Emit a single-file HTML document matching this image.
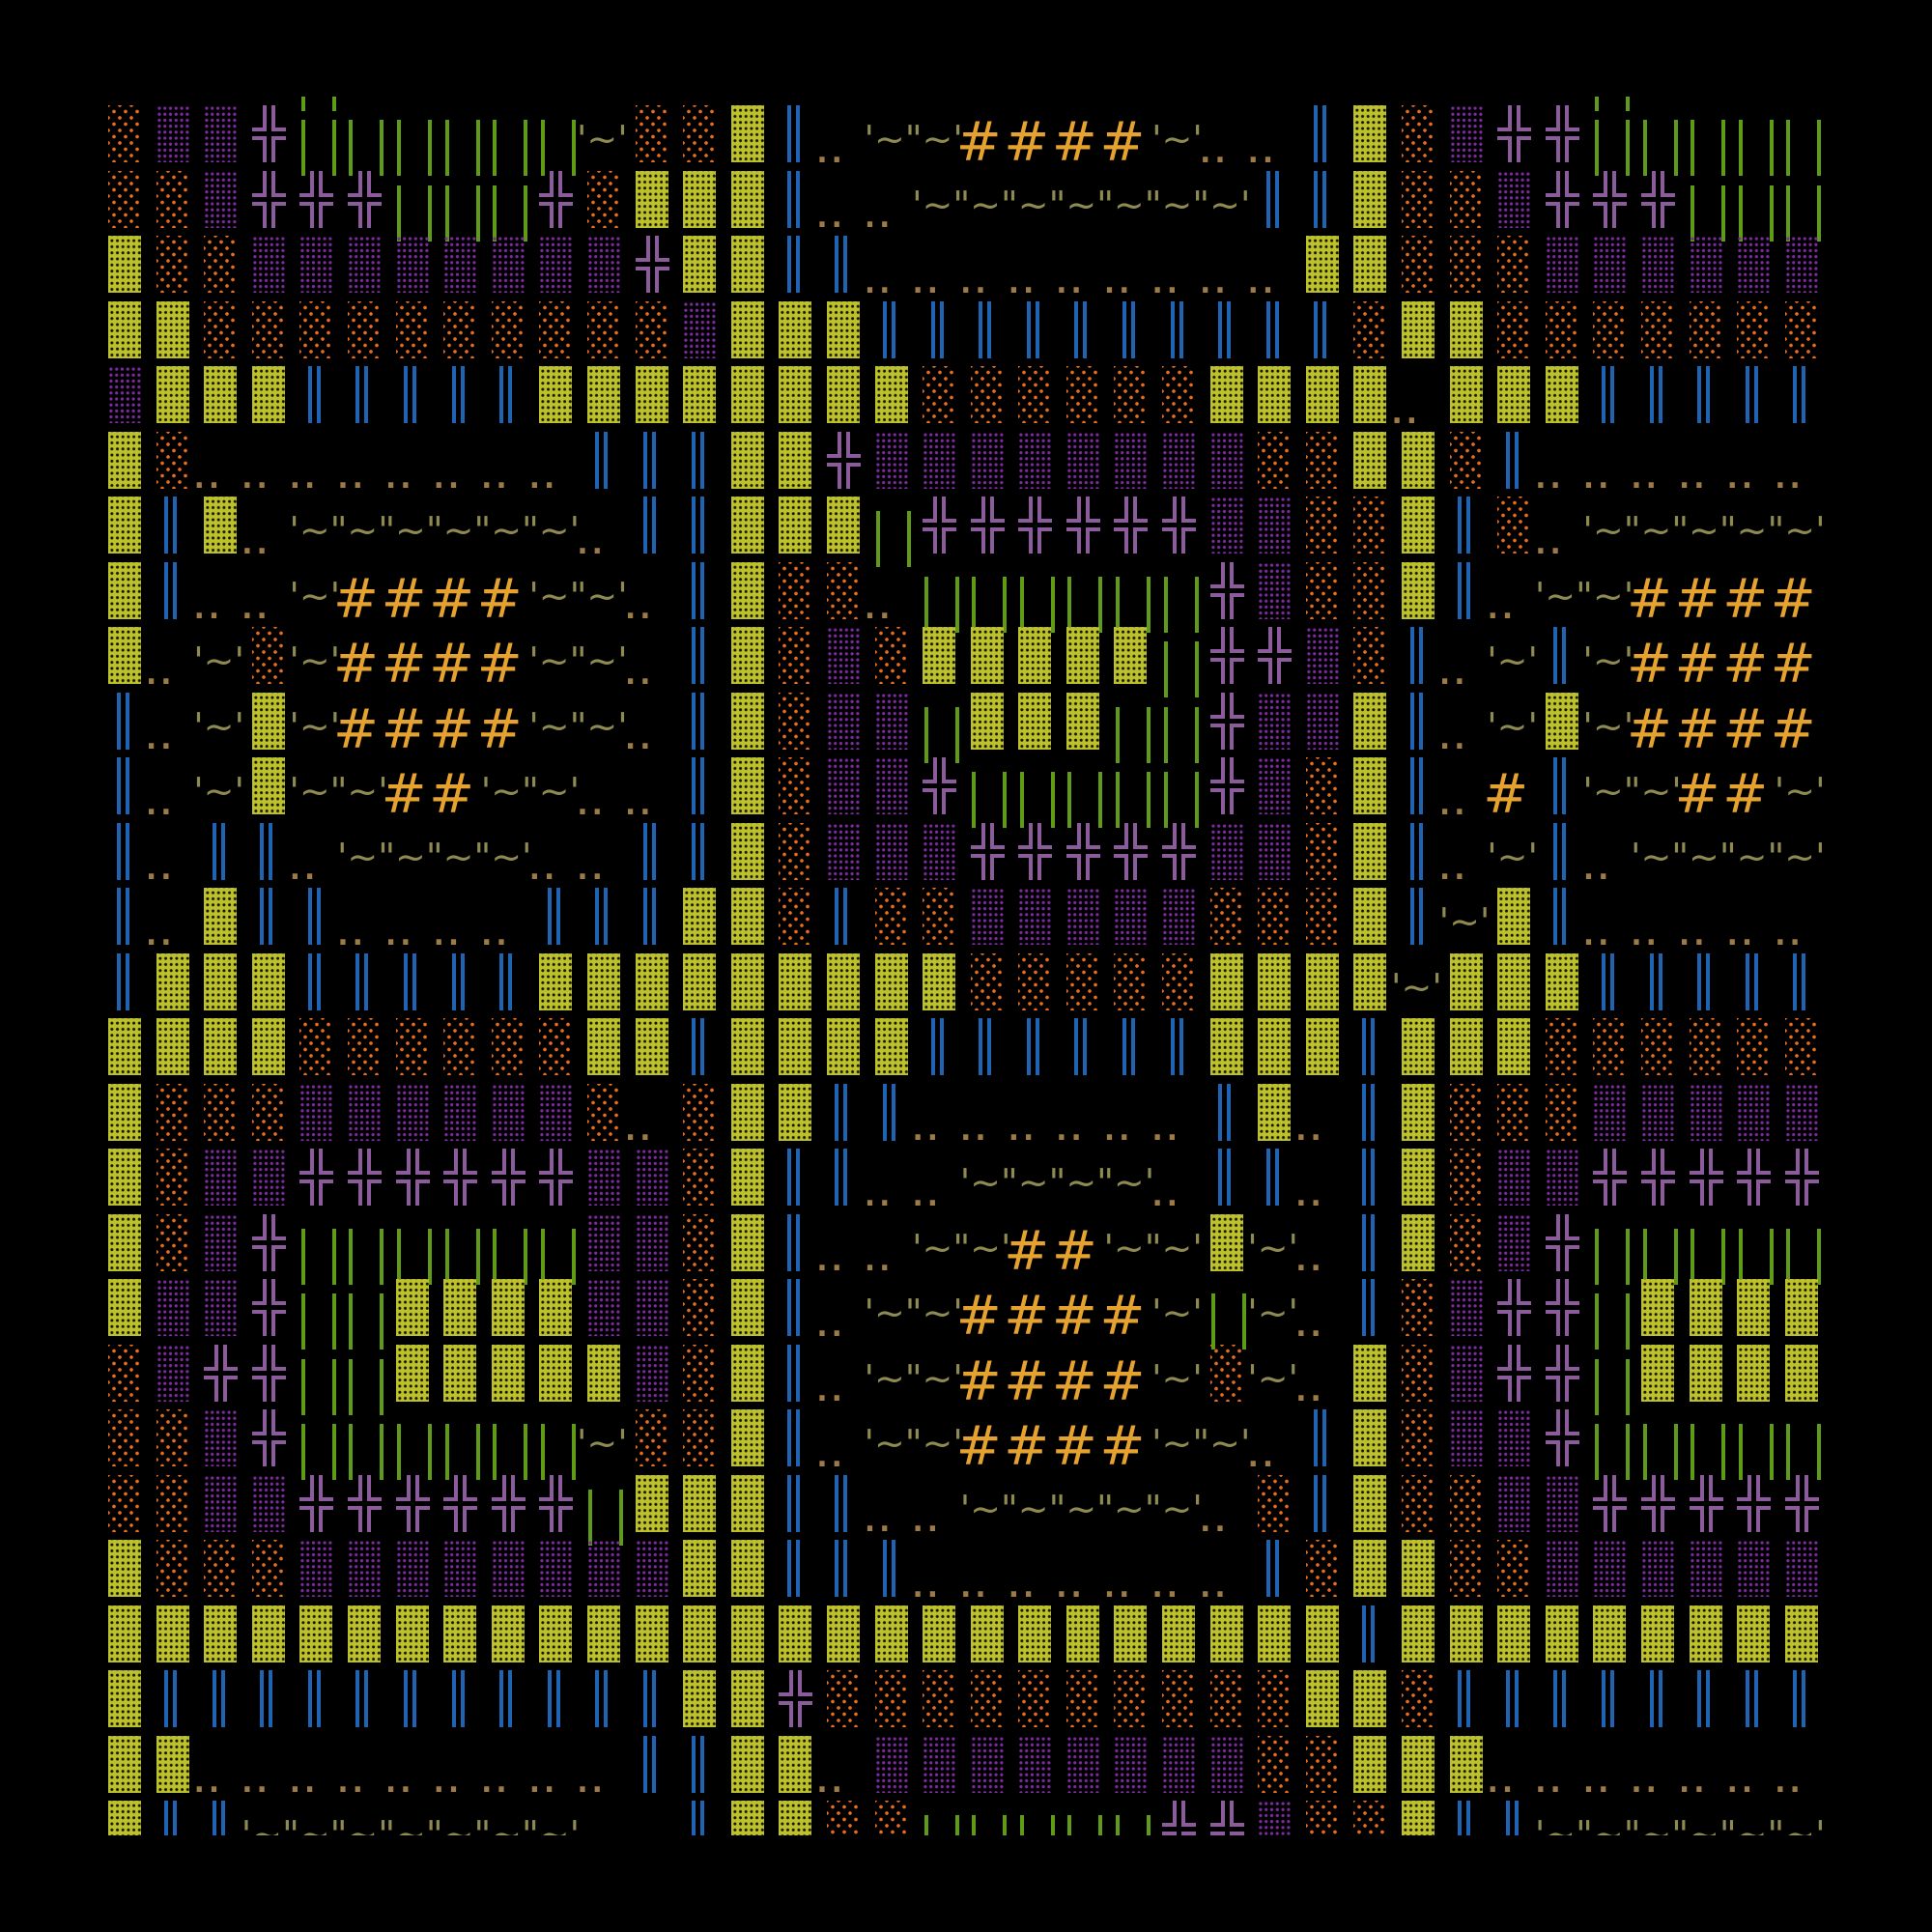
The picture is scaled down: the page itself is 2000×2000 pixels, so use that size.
<!DOCTYPE html>
<html><head><meta charset="utf-8"><style>
html,body{margin:0;padding:0;background:#000;}
body{width:2000px;height:2000px;overflow:hidden;position:relative;}
#c{position:absolute;left:112px;top:100px;width:1788px;height:1800px;overflow:hidden;}
#g{position:absolute;left:-8px;top:-63.5px;}
.r{display:flex;height:67.5px;}
.r>*{flex:0 0 49.6px;width:49.6px;height:67.5px;position:relative;display:block;box-sizing:border-box;white-space:nowrap;overflow:visible;}
y::before,o::before,m::before{content:"";position:absolute;left:8px;top:5px;width:34px;height:59px;}
y::before{background:radial-gradient(circle,#151500 1.2px,transparent 1.8px) 1px 2px/5.7px 6.3px,#bcc12c;}
o::before{background:radial-gradient(circle,#e86c1a 1.6px,transparent 2.1px) 0 0/12px 13px,radial-gradient(circle,#e86c1a 1.6px,transparent 2.1px) 6px 6.5px/12px 13px;}
m::before{background:radial-gradient(circle,#7d2ba0 1.4px,transparent 1.9px) 0 0/5.8px 6.2px;}
x{background:
linear-gradient(#8b5b9b,#8b5b9b) 19px 5px/4px 27px no-repeat,
linear-gradient(#8b5b9b,#8b5b9b) 28px 5px/4px 27px no-repeat,
linear-gradient(#8b5b9b,#8b5b9b) 19px 37px/4px 27px no-repeat,
linear-gradient(#8b5b9b,#8b5b9b) 28px 37px/4px 27px no-repeat,
linear-gradient(#8b5b9b,#8b5b9b) 8px 28px/15px 4px no-repeat,
linear-gradient(#8b5b9b,#8b5b9b) 28px 28px/15px 4px no-repeat,
linear-gradient(#8b5b9b,#8b5b9b) 8px 37px/15px 4px no-repeat,
linear-gradient(#8b5b9b,#8b5b9b) 28px 37px/15px 4px no-repeat;}
g::before{content:"";position:absolute;left:9.5px;top:20px;width:28px;height:58px;border-left:4px solid #5f9b16;border-right:4px solid #5f9b16;}
l::before{content:"";position:absolute;left:16.5px;top:5px;width:5px;height:59px;border-left:4px solid #1f63b3;border-right:4px solid #1f63b3;}
d{font:bold 32px/32px "DejaVu Sans Mono",monospace;color:#9c7b46;letter-spacing:-4px;padding-top:36.5px;text-indent:-6.6px;}
t{font:38px/38px "DejaVu Sans",sans-serif;color:#8e8a52;letter-spacing:0;padding-top:21px;text-indent:-3px;}
h{font:56px/56px "DejaVu Sans",sans-serif;color:#e5a22e;padding-top:16px;text-indent:-7px;}
</style></head><body><div id="c"><div id="g">
<div class="r"><e></e><e></e><e></e><e></e><g></g><e></e><e></e><e></e><e></e><e></e><e></e><e></e><e></e><e></e><e></e><d>..</d><e></e><e></e><e></e><e></e><e></e><e></e><e></e><e></e><e></e><d>..</d><e></e><e></e><e></e><e></e><e></e><g></g></div>
<div class="r"><o></o><m></m><m></m><x></x><g></g><g></g><g></g><g></g><g></g><g></g><t>'~'</t><o></o><o></o><y></y><l></l><d>..</d><t>'~'</t><t>'~'</t><h>#</h><h>#</h><h>#</h><h>#</h><t>'~'</t><d>..</d><d>..</d><l></l><y></y><o></o><m></m><x></x><x></x><g></g><g></g><g></g><g></g><g></g></div>
<div class="r"><o></o><o></o><m></m><x></x><x></x><x></x><g></g><g></g><g></g><x></x><o></o><y></y><y></y><y></y><l></l><d>..</d><d>..</d><t>'~'</t><t>'~'</t><t>'~'</t><t>'~'</t><t>'~'</t><t>'~'</t><t>'~'</t><l></l><l></l><y></y><o></o><o></o><m></m><x></x><x></x><x></x><g></g><g></g><g></g></div>
<div class="r"><y></y><o></o><o></o><m></m><m></m><m></m><m></m><m></m><m></m><m></m><m></m><x></x><y></y><y></y><l></l><l></l><d>..</d><d>..</d><d>..</d><d>..</d><d>..</d><d>..</d><d>..</d><d>..</d><d>..</d><y></y><y></y><o></o><o></o><o></o><m></m><m></m><m></m><m></m><m></m><m></m></div>
<div class="r"><y></y><y></y><o></o><o></o><o></o><o></o><o></o><o></o><o></o><o></o><o></o><o></o><m></m><y></y><y></y><y></y><l></l><l></l><l></l><l></l><l></l><l></l><l></l><l></l><l></l><l></l><o></o><y></y><y></y><o></o><o></o><o></o><o></o><o></o><o></o><o></o></div>
<div class="r"><m></m><y></y><y></y><y></y><l></l><l></l><l></l><l></l><l></l><y></y><y></y><y></y><y></y><y></y><y></y><y></y><y></y><o></o><o></o><o></o><o></o><o></o><o></o><y></y><y></y><y></y><y></y><d>..</d><y></y><y></y><y></y><l></l><l></l><l></l><l></l><l></l></div>
<div class="r"><y></y><o></o><d>..</d><d>..</d><d>..</d><d>..</d><d>..</d><d>..</d><d>..</d><d>..</d><l></l><l></l><l></l><y></y><y></y><x></x><m></m><m></m><m></m><m></m><m></m><m></m><m></m><m></m><o></o><o></o><y></y><y></y><o></o><l></l><d>..</d><d>..</d><d>..</d><d>..</d><d>..</d><d>..</d></div>
<div class="r"><y></y><l></l><y></y><d>..</d><t>'~'</t><t>'~'</t><t>'~'</t><t>'~'</t><t>'~'</t><t>'~'</t><d>..</d><l></l><l></l><y></y><y></y><y></y><g></g><x></x><x></x><x></x><x></x><x></x><x></x><m></m><m></m><o></o><o></o><y></y><l></l><o></o><d>..</d><t>'~'</t><t>'~'</t><t>'~'</t><t>'~'</t><t>'~'</t></div>
<div class="r"><y></y><l></l><d>..</d><d>..</d><t>'~'</t><h>#</h><h>#</h><h>#</h><h>#</h><t>'~'</t><t>'~'</t><d>..</d><l></l><y></y><o></o><o></o><d>..</d><g></g><g></g><g></g><g></g><g></g><g></g><x></x><m></m><o></o><o></o><y></y><l></l><d>..</d><t>'~'</t><t>'~'</t><h>#</h><h>#</h><h>#</h><h>#</h></div>
<div class="r"><y></y><d>..</d><t>'~'</t><o></o><t>'~'</t><h>#</h><h>#</h><h>#</h><h>#</h><t>'~'</t><t>'~'</t><d>..</d><l></l><y></y><o></o><m></m><o></o><y></y><y></y><y></y><y></y><y></y><g></g><x></x><x></x><m></m><o></o><l></l><d>..</d><t>'~'</t><l></l><t>'~'</t><h>#</h><h>#</h><h>#</h><h>#</h></div>
<div class="r"><l></l><d>..</d><t>'~'</t><y></y><t>'~'</t><h>#</h><h>#</h><h>#</h><h>#</h><t>'~'</t><t>'~'</t><d>..</d><l></l><y></y><o></o><m></m><m></m><g></g><y></y><y></y><y></y><g></g><g></g><x></x><m></m><m></m><y></y><l></l><d>..</d><t>'~'</t><y></y><t>'~'</t><h>#</h><h>#</h><h>#</h><h>#</h></div>
<div class="r"><l></l><d>..</d><t>'~'</t><y></y><t>'~'</t><t>'~'</t><h>#</h><h>#</h><t>'~'</t><t>'~'</t><d>..</d><d>..</d><l></l><y></y><o></o><m></m><m></m><x></x><g></g><g></g><g></g><g></g><g></g><x></x><m></m><o></o><y></y><l></l><d>..</d><h>#</h><l></l><t>'~'</t><t>'~'</t><h>#</h><h>#</h><t>'~'</t></div>
<div class="r"><l></l><d>..</d><l></l><l></l><d>..</d><t>'~'</t><t>'~'</t><t>'~'</t><t>'~'</t><d>..</d><d>..</d><l></l><l></l><y></y><o></o><m></m><m></m><m></m><x></x><x></x><x></x><x></x><x></x><m></m><m></m><o></o><y></y><l></l><d>..</d><t>'~'</t><l></l><d>..</d><t>'~'</t><t>'~'</t><t>'~'</t><t>'~'</t></div>
<div class="r"><l></l><d>..</d><y></y><l></l><l></l><d>..</d><d>..</d><d>..</d><d>..</d><l></l><l></l><l></l><y></y><y></y><o></o><l></l><o></o><o></o><m></m><m></m><m></m><m></m><m></m><o></o><o></o><o></o><y></y><l></l><t>'~'</t><y></y><l></l><d>..</d><d>..</d><d>..</d><d>..</d><d>..</d></div>
<div class="r"><l></l><y></y><y></y><y></y><l></l><l></l><l></l><l></l><l></l><y></y><y></y><y></y><y></y><y></y><y></y><y></y><y></y><y></y><o></o><o></o><o></o><o></o><o></o><y></y><y></y><y></y><y></y><t>'~'</t><y></y><y></y><y></y><l></l><l></l><l></l><l></l><l></l></div>
<div class="r"><y></y><y></y><y></y><y></y><o></o><o></o><o></o><o></o><o></o><o></o><y></y><y></y><l></l><y></y><y></y><y></y><y></y><l></l><l></l><l></l><l></l><l></l><l></l><y></y><y></y><y></y><l></l><y></y><y></y><y></y><o></o><o></o><o></o><o></o><o></o><o></o></div>
<div class="r"><y></y><o></o><o></o><o></o><m></m><m></m><m></m><m></m><m></m><m></m><o></o><d>..</d><o></o><y></y><y></y><l></l><l></l><d>..</d><d>..</d><d>..</d><d>..</d><d>..</d><d>..</d><l></l><y></y><d>..</d><l></l><y></y><o></o><o></o><o></o><m></m><m></m><m></m><m></m><m></m></div>
<div class="r"><y></y><o></o><m></m><m></m><x></x><x></x><x></x><x></x><x></x><x></x><m></m><m></m><o></o><y></y><l></l><l></l><d>..</d><d>..</d><t>'~'</t><t>'~'</t><t>'~'</t><t>'~'</t><d>..</d><l></l><l></l><d>..</d><l></l><y></y><o></o><m></m><m></m><x></x><x></x><x></x><x></x><x></x></div>
<div class="r"><y></y><o></o><m></m><x></x><g></g><g></g><g></g><g></g><g></g><g></g><m></m><m></m><o></o><y></y><l></l><d>..</d><d>..</d><t>'~'</t><t>'~'</t><h>#</h><h>#</h><t>'~'</t><t>'~'</t><y></y><t>'~'</t><d>..</d><l></l><y></y><o></o><m></m><x></x><g></g><g></g><g></g><g></g><g></g></div>
<div class="r"><y></y><m></m><m></m><x></x><g></g><g></g><y></y><y></y><y></y><y></y><m></m><m></m><o></o><y></y><l></l><d>..</d><t>'~'</t><t>'~'</t><h>#</h><h>#</h><h>#</h><h>#</h><t>'~'</t><g></g><t>'~'</t><d>..</d><l></l><o></o><m></m><x></x><x></x><g></g><y></y><y></y><y></y><y></y></div>
<div class="r"><o></o><m></m><x></x><x></x><g></g><g></g><y></y><y></y><y></y><y></y><y></y><m></m><o></o><y></y><l></l><d>..</d><t>'~'</t><t>'~'</t><h>#</h><h>#</h><h>#</h><h>#</h><t>'~'</t><o></o><t>'~'</t><d>..</d><y></y><o></o><m></m><x></x><x></x><g></g><y></y><y></y><y></y><y></y></div>
<div class="r"><o></o><o></o><m></m><x></x><g></g><g></g><g></g><g></g><g></g><g></g><t>'~'</t><o></o><o></o><y></y><l></l><d>..</d><t>'~'</t><t>'~'</t><h>#</h><h>#</h><h>#</h><h>#</h><t>'~'</t><t>'~'</t><d>..</d><l></l><y></y><o></o><m></m><m></m><x></x><g></g><g></g><g></g><g></g><g></g></div>
<div class="r"><o></o><o></o><m></m><m></m><x></x><x></x><x></x><x></x><x></x><x></x><g></g><y></y><y></y><y></y><l></l><l></l><d>..</d><d>..</d><t>'~'</t><t>'~'</t><t>'~'</t><t>'~'</t><t>'~'</t><d>..</d><o></o><l></l><y></y><o></o><o></o><m></m><m></m><x></x><x></x><x></x><x></x><x></x></div>
<div class="r"><y></y><o></o><o></o><o></o><m></m><m></m><m></m><m></m><m></m><m></m><m></m><m></m><y></y><y></y><l></l><l></l><l></l><d>..</d><d>..</d><d>..</d><d>..</d><d>..</d><d>..</d><d>..</d><l></l><o></o><y></y><y></y><o></o><o></o><m></m><m></m><m></m><m></m><m></m><m></m></div>
<div class="r"><y></y><y></y><y></y><y></y><y></y><y></y><y></y><y></y><y></y><y></y><y></y><y></y><y></y><y></y><y></y><y></y><y></y><y></y><y></y><y></y><y></y><y></y><y></y><y></y><y></y><y></y><l></l><y></y><y></y><y></y><y></y><y></y><y></y><y></y><y></y><y></y></div>
<div class="r"><y></y><l></l><l></l><l></l><l></l><l></l><l></l><l></l><l></l><l></l><l></l><l></l><y></y><y></y><x></x><o></o><o></o><o></o><o></o><o></o><o></o><o></o><o></o><o></o><o></o><y></y><y></y><o></o><l></l><l></l><l></l><l></l><l></l><l></l><l></l><l></l></div>
<div class="r"><y></y><y></y><d>..</d><d>..</d><d>..</d><d>..</d><d>..</d><d>..</d><d>..</d><d>..</d><d>..</d><l></l><l></l><y></y><y></y><d>..</d><m></m><m></m><m></m><m></m><m></m><m></m><m></m><m></m><o></o><o></o><y></y><y></y><y></y><d>..</d><d>..</d><d>..</d><d>..</d><d>..</d><d>..</d><d>..</d></div>
<div class="r"><y></y><l></l><l></l><t>'~'</t><t>'~'</t><t>'~'</t><t>'~'</t><t>'~'</t><t>'~'</t><t>'~'</t><e></e><e></e><l></l><y></y><y></y><o></o><o></o><g></g><g></g><g></g><g></g><g></g><x></x><x></x><m></m><o></o><o></o><y></y><l></l><l></l><t>'~'</t><t>'~'</t><t>'~'</t><t>'~'</t><t>'~'</t><t>'~'</t></div>
</div></div></body></html>
